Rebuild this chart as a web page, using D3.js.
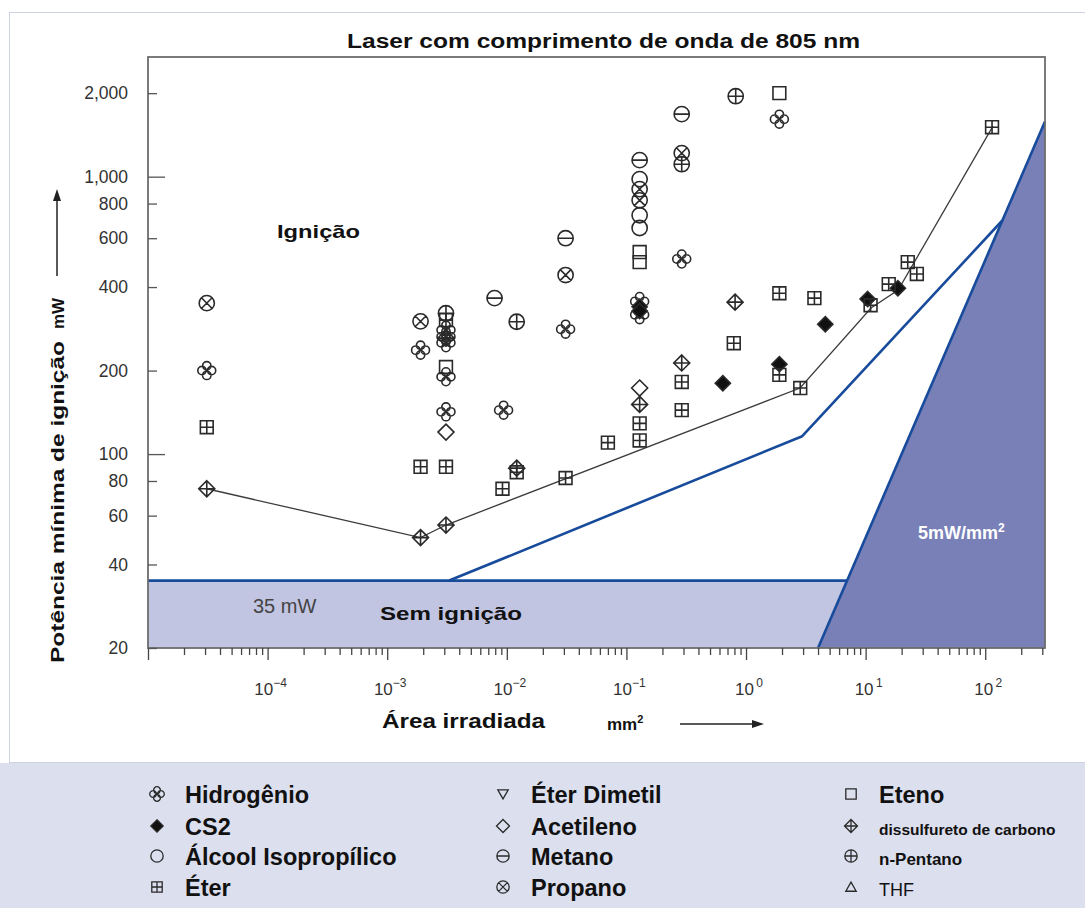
<!DOCTYPE html>
<html>
<head>
<meta charset="utf-8">
<script src="https://cdn.jsdelivr.net/npm/d3@7"></script>
<style>
  html, body { margin: 0; padding: 0; background: #ffffff; }
  svg { display: block; font-family: "Liberation Sans", Arial, sans-serif; }
</style>
</head>
<body>
<svg id="chart" width="1085" height="908"></svg>
<script>
// Minimum ignition power (mW) against irradiated area (mm²), 805 nm laser.
// Each series: [area in mm², power in mW]
const hidrogenio = [[3.1e-5, 200], [0.0019, 237], [0.0031, 280], [0.0031, 265], [0.0031, 252],
  [0.0031, 190], [0.0031, 142], [0.0094, 144], [0.031, 282], [0.129, 355], [0.129, 318],
  [0.29, 505], [1.9, 1612]];
const cs2 = [[0.129, 340], [0.129, 328], [0.64, 180], [1.9, 211], [4.6, 294], [10.4, 362], [18.6, 396]];
const alcoolIsopropilico = [[0.129, 980], [0.129, 726], [0.129, 653]];
const eter = [[3.1e-5, 125], [0.0019, 90], [0.0031, 304], [0.0031, 90], [0.0092, 75], [0.0121, 86],
  [0.031, 82], [0.07, 110], [0.129, 129], [0.129, 112], [0.29, 182], [0.29, 144], [0.79, 251],
  [1.9, 380], [1.9, 193], [2.84, 173], [3.73, 365], [11, 344], [15.6, 410], [22.5, 492],
  [26.8, 446], [114, 1508]];
const eterDimetil = [];
const acetileno = [[0.0031, 120], [0.129, 173]];
const metano = [[0.0079, 365], [0.031, 600], [0.129, 1147], [0.29, 1680]];
const propano = [[3.1e-5, 350], [0.0019, 301], [0.031, 442], [0.129, 902], [0.129, 822], [0.29, 1216]];
const eteno = [[0.0031, 206], [0.129, 535], [0.129, 492], [1.9, 2000]];
const dissulfureto = [[3.1e-5, 75], [0.0019, 50], [0.0031, 55.5], [0.0031, 262], [0.0121, 89],
  [0.129, 151], [0.29, 213], [0.81, 353]];
const nPentano = [[0.0031, 322], [0.0121, 300], [0.29, 1109], [0.82, 1950]];
const thf = [];

// Ignition boundary drawn through the lowest igniting points
const ignitionBoundary = [[3.1e-5, 75], [0.0019, 50], [0.0031, 55.5], [2.83, 173], [11.1, 336],
  [18.7, 390], [116, 1521]];
// Lower safety limit
const safetyLimit = [[0.0033, 35], [2.95, 116], [139, 695]];
const minPower = 35;          // mW
const intensityLimit = 5;     // mW/mm²

// Axes
const areaDomain = [1e-5, 316];
const powerDomain = [20, 2700];
const powerTicks = [20, 40, 60, 80, 100, 200, 400, 600, 800, 1000, 2000];
const areaExponents = [-4, -3, -2, -1, 0, 1, 2];

// Legend entries, column by column
const legendColumns = [
  [["hidrogenio", "Hidrogênio"], ["cs2", "CS2"], ["alcool", "Álcool Isopropílico"], ["eter", "Éter"]],
  [["eterDimetil", "Éter Dimetil"], ["acetileno", "Acetileno"], ["metano", "Metano"], ["propano", "Propano"]],
  [["eteno", "Eteno"], ["dissulfureto", "dissulfureto de carbono"], ["nPentano", "n-Pentano"], ["thf", "THF"]]
];

const seriesByKey = {
  hidrogenio, cs2, alcool: alcoolIsopropilico, eter, eterDimetil, acetileno,
  metano, propano, eteno, dissulfureto, nPentano, thf
};

// ---------------------------------------------------------------------------
const svg = d3.select("#chart");
const plot = { left: 148, right: 1045, top: 57, bottom: 648 };

const x = d3.scaleLog().domain(areaDomain).range([plot.left, plot.right]);
const y = d3.scaleLog().domain(powerDomain).range([plot.bottom, plot.top]);

// Page panels
svg.append("rect").attr("x", 0).attr("y", 0).attr("width", 1085).attr("height", 908).attr("fill", "#ffffff");
svg.append("rect").attr("x", 9.5).attr("y", 12.5).attr("width", 1080).attr("height", 750)
  .attr("fill", "#ffffff").attr("stroke", "#cdd2e4").attr("stroke-width", 1);
svg.append("rect").attr("x", 0).attr("y", 763).attr("width", 1085).attr("height", 145)
  .attr("fill", "#dcdfee");

// Regions
const [aMin, aMax] = areaDomain;
const [pMin] = powerDomain;
const line = d3.line().x(d => x(d[0])).y(d => y(d[1]));

svg.append("rect")
  .attr("x", plot.left).attr("y", y(minPower))
  .attr("width", plot.right - plot.left).attr("height", plot.bottom - y(minPower))
  .attr("fill", "#c1c5e1");

const intensityStart = pMin / intensityLimit;
const darkRegion = [[intensityStart, pMin], [aMax, aMax * intensityLimit], [aMax, pMin]];
svg.append("path").attr("d", line(darkRegion) + "Z").attr("fill", "#7880b7");

// Limit lines
const blue = "#184b9b";
svg.append("path")
  .attr("d", line([[aMin, minPower], [minPower / intensityLimit, minPower]]))
  .attr("fill", "none").attr("stroke", blue).attr("stroke-width", 2.6);
svg.append("path")
  .attr("d", line([[intensityStart, pMin], [aMax, aMax * intensityLimit]]))
  .attr("fill", "none").attr("stroke", blue).attr("stroke-width", 2.6);
svg.append("path")
  .attr("d", line(safetyLimit))
  .attr("fill", "none").attr("stroke", blue).attr("stroke-width", 2.6).attr("stroke-linejoin", "round");

// Frame
svg.append("rect")
  .attr("x", plot.left).attr("y", plot.top)
  .attr("width", plot.right - plot.left).attr("height", plot.bottom - plot.top)
  .attr("fill", "none").attr("stroke", "#6d6d6d").attr("stroke-width", 1.8);

// X axis (ticks below the frame)
const xAxisG = svg.append("g").attr("transform", `translate(0,${plot.bottom})`)
  .call(d3.axisBottom(x).tickValues(x.ticks()).tickSize(7).tickFormat(""));
xAxisG.select(".domain").remove();
xAxisG.selectAll(".tick line")
  .attr("stroke", "#444").attr("stroke-width", 1.3)
  .attr("y2", d => Math.abs(Math.log10(d) - Math.round(Math.log10(d))) < 1e-9 ? 12 : 7);

const xLabels = svg.append("g").attr("fill", "#333").attr("font-size", 17);
areaExponents.forEach(e => {
  const t = xLabels.append("text")
    .attr("x", x(Math.pow(10, e)) + 3).attr("y", 695)
    .attr("text-anchor", "middle");
  t.append("tspan").text("10");
  t.append("tspan").attr("dy", -8).attr("font-size", 12)
    .text(e < 0 ? "\u2212" + Math.abs(e) : "\u2009" + e);
});

// Y axis (ticks inside the frame)
const yAxisG = svg.append("g").attr("transform", `translate(${plot.left},0)`)
  .call(d3.axisLeft(y).tickValues(powerTicks).tickSizeInner(-9).tickSizeOuter(0)
    .tickPadding(20).tickFormat(d3.format(",")));
yAxisG.select(".domain").remove();
yAxisG.selectAll(".tick line").attr("stroke", "#555").attr("stroke-width", 1.3)
  .attr("x2", d => (d === 100 || d === 1000) ? 17 : 9);
yAxisG.selectAll(".tick text").attr("font-size", 17.5).attr("fill", "#333")
  .attr("font-family", "Liberation Sans, Arial, sans-serif");

// Ignition boundary
svg.append("path").attr("d", line(ignitionBoundary))
  .attr("fill", "none").attr("stroke", "#3c3c3c").attr("stroke-width", 1.3);

// Marker shapes
function circ(cx, cy, r) {
  return `M${cx - r},${cy}a${r},${r} 0 1,0 ${2 * r},0a${r},${r} 0 1,0 ${-2 * r},0`;
}
function markerPath(type, s) {
  const r = s * 0.95, h = s * 0.8, d = s, k = r * 0.707;
  const square = `M${-h},${-h}H${h}V${h}H${-h}Z`;
  const diamond = `M0,${-d}L${d},0L0,${d}L${-d},0Z`;
  switch (type) {
    case "alcool": return circ(0, 0, r);
    case "metano": return circ(0, 0, r) + `M${-r},0H${r}`;
    case "propano": return circ(0, 0, r) + `M${-k},${-k}L${k},${k}M${-k},${k}L${k},${-k}`;
    case "nPentano": return circ(0, 0, r) + `M${-r},0H${r}M0,${-r}V${r}`;
    case "eteno": return square;
    case "eter": return square + `M${-h},0H${h}M0,${-h}V${h}`;
    case "acetileno": return diamond;
    case "dissulfureto": return diamond + `M${-d},0H${d}M0,${-d}V${d}`;
    case "cs2": return `M0,${-d * 0.95}L${d * 0.95},0L0,${d * 0.95}L${-d * 0.95},0Z`;
    case "hidrogenio": {
      const o = s * 0.6, rr = s * 0.52;
      return circ(o, 0, rr) + circ(-o, 0, rr) + circ(0, o, rr) + circ(0, -o, rr);
    }
    case "eterDimetil": return `M${-s * 0.8},${-s * 0.65}H${s * 0.8}L0,${s * 0.75}Z`;
    case "thf": return `M${-s * 0.8},${s * 0.65}H${s * 0.8}L0,${-s * 0.75}Z`;
  }
  return "";
}
function addMarker(g, type, cx, cy, s, sw) {
  g.append("path")
    .attr("transform", `translate(${cx},${cy})`)
    .attr("d", markerPath(type, s))
    .attr("fill", type === "cs2" ? "#111" : "none")
    .attr("stroke", "#2a2a2a")
    .attr("stroke-width", sw);
}

const markers = svg.append("g");
Object.entries(seriesByKey).forEach(([key, pts]) => {
  pts.forEach(p => addMarker(markers, key, x(p[0]), y(p[1]), 8, 1.6));
});

// Region labels
svg.append("text").attr("x", 277).attr("y", 238).attr("font-size", 19).attr("font-weight", "bold")
  .attr("fill", "#111").attr("textLength", 83).attr("lengthAdjust", "spacingAndGlyphs").text("Ignição");
svg.append("text").attr("x", 380).attr("y", 620).attr("font-size", 19).attr("font-weight", "bold")
  .attr("fill", "#111").attr("textLength", 142).attr("lengthAdjust", "spacingAndGlyphs").text("Sem ignição");
svg.append("text").attr("x", 253).attr("y", 613).attr("font-size", 20)
  .attr("fill", "#444").text(`${minPower} mW`);
const intensityText = svg.append("text").attr("x", 918).attr("y", 539).attr("font-size", 18)
  .attr("font-weight", "bold").attr("fill", "#ffffff");
intensityText.append("tspan").text(`${intensityLimit}mW/mm`);
intensityText.append("tspan").attr("dy", -7).attr("font-size", 12).text("2");

// Title
svg.append("text").attr("x", 347).attr("y", 48).attr("font-size", 20).attr("font-weight", "bold")
  .attr("fill", "#111").attr("textLength", 513).attr("lengthAdjust", "spacingAndGlyphs")
  .text("Laser com comprimento de onda de 805 nm");

// Axis titles
svg.append("text").attr("x", 382).attr("y", 728).attr("font-size", 20).attr("font-weight", "bold")
  .attr("fill", "#111").attr("textLength", 163).attr("lengthAdjust", "spacingAndGlyphs")
  .text("Área irradiada");
const mm2 = svg.append("text").attr("x", 607).attr("y", 730).attr("font-size", 17)
  .attr("font-weight", "bold").attr("fill", "#111");
mm2.append("tspan").text("mm");
mm2.append("tspan").attr("dy", -7).attr("font-size", 11).text("2");
svg.append("line").attr("x1", 680).attr("x2", 754).attr("y1", 724).attr("y2", 724)
  .attr("stroke", "#222").attr("stroke-width", 1.5);
svg.append("path").attr("d", "M764,724L752,720L752,728Z").attr("fill", "#222");

const yTitle = svg.append("g").attr("transform", "translate(64,663) rotate(-90)");
yTitle.append("text").attr("x", 0).attr("y", 0).attr("font-size", 19).attr("font-weight", "bold")
  .attr("fill", "#111").attr("textLength", 322).attr("lengthAdjust", "spacingAndGlyphs")
  .text("Potência mínima de ignição");
yTitle.append("text").attr("x", 334).attr("y", 0).attr("font-size", 17).attr("font-weight", "bold")
  .attr("fill", "#111").text("mW");
svg.append("line").attr("x1", 57).attr("x2", 57).attr("y1", 276).attr("y2", 200)
  .attr("stroke", "#222").attr("stroke-width", 1.5);
svg.append("path").attr("d", "M57,189L53,201L61,201Z").attr("fill", "#222");

// Legend
const legendColX = [157, 503, 851];
const legendRowY = [794, 826, 856, 887];
const legendTextStyle = {
  "dissulfureto de carbono": { size: 15.5, weight: "bold" },
  "n-Pentano": { size: 17, weight: "bold" },
  "THF": { size: 18, weight: "normal" }
};
const legend = svg.append("g");
legendColumns.forEach((col, ci) => {
  col.forEach(([key, label], ri) => {
    const cx = legendColX[ci], cy = legendRowY[ri];
    addMarker(legend, key, cx, cy, 6.5, 1.3);
    const st = legendTextStyle[label] || { size: 23.5, weight: "bold" };
    legend.append("text")
      .attr("x", cx + 28).attr("y", cy + 8.5)
      .attr("font-size", st.size).attr("font-weight", st.weight)
      .attr("fill", "#111").text(label);
  });
});
</script>
</body>
</html>
